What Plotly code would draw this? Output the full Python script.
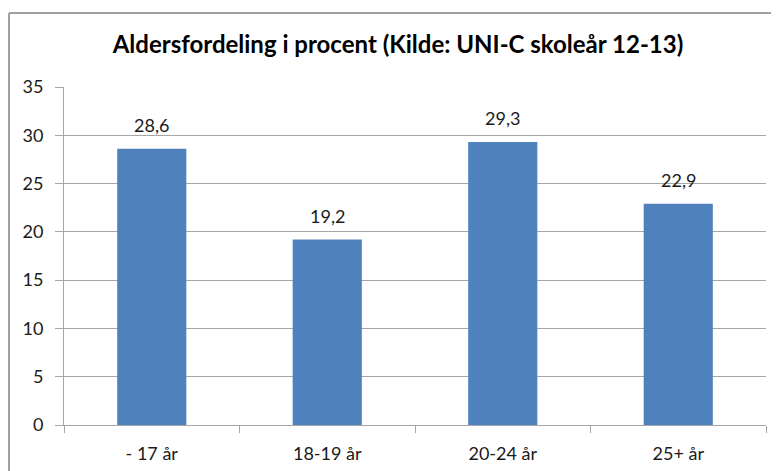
import plotly.graph_objects as go

categories = ["- 17 år", "18-19 år", "20-24 år", "25+ år"]
values = [28.6, 19.2, 29.3, 22.9]
title_text = "Aldersfordeling i procent (Kilde: UNI-C skoleår 12-13)"

labels = [f"{v:.1f}".replace(".", ",") for v in values]

FONT = "Lato"
GRID = "#A6A6A6"
TXT = "#1a1a1a"

W, H = 771, 463
ML, MR, MT, MB = 56, 13, 79, 46
PW, PH = W - ML - MR, H - MT - MB

fig = go.Figure(go.Bar(
    x=categories, y=values,
    marker=dict(color="#4F81BD", line=dict(width=0)),
    cliponaxis=False,
))

annotations = [
    dict(x=c, y=v, text=t, xref="x", yref="y", showarrow=False,
         yanchor="middle", xanchor="center", yshift=24,
         font=dict(family=FONT, size=18, color=TXT))
    for c, v, t in zip(categories, values, labels)
]

fig.update_layout(
    width=W, height=H,
    margin=dict(l=ML, r=MR, t=MT, b=MB, autoexpand=False),
    paper_bgcolor="white", plot_bgcolor="white",
    bargap=0.606,
    showlegend=False,
    title=dict(text="<b>" + title_text + "</b>", x=390 / W, xanchor="center",
               xref="container", y=1 - 37 / H, yanchor="middle", yref="container",
               font=dict(family=FONT, size=24, color="black")),
    font=dict(family=FONT, size=18, color=TXT),
    annotations=annotations,
    xaxis=dict(showline=True, linecolor=GRID, linewidth=1,
               ticks="outside", tickson="boundaries", ticklen=7, tickcolor=GRID,
               tickfont=dict(family=FONT, size=18, color=TXT),
               ticklabelstandoff=12,
               showgrid=False, fixedrange=True),
    yaxis=dict(range=[0, 35], dtick=5, showline=True, linecolor=GRID, linewidth=1,
               ticks="outside", ticklen=8, tickcolor=GRID,
               showgrid=True, gridcolor=GRID, gridwidth=1, zeroline=False,
               tickfont=dict(family=FONT, size=18, color=TXT),
               ticklabelstandoff=8),
    shapes=[
        dict(type="line", xref="paper", yref="paper",
             x0=(1 - ML) / PW, x1=1.05, y0=(H - MB - 5) / PH, y1=(H - MB - 5) / PH,
             line=dict(color="#A0A0A0", width=2)),
        dict(type="line", xref="paper", yref="paper",
             x0=(1 - ML) / PW, x1=(1 - ML) / PW, y0=(H - MB - 5) / PH, y1=-0.2,
             line=dict(color="#A0A0A0", width=2)),
    ],
)

fig.write_html("out.html")
